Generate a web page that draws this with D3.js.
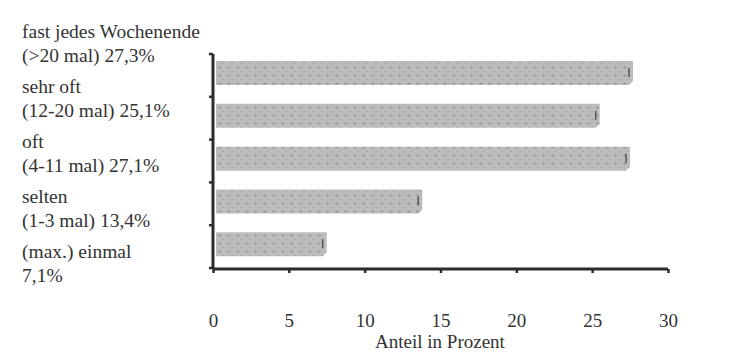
<!DOCTYPE html>
<html>
<head>
<meta charset="utf-8">
<script src="https://cdn.jsdelivr.net/npm/d3@7"></script>
<style>
  body { margin: 0; background: white; }
</style>
</head>
<body>
<div id="chart"></div>
<script>
// chart values
let categories = ['fast jedes Wochenende', 'sehr oft', 'oft', 'selten', '(max.) einmal'];
let subLabels = ['(>20 mal) 27,3%', '(12-20 mal) 25,1%', '(4-11 mal) 27,1%', '(1-3 mal) 13,4%', '7,1%'];
let values = [27.3, 25.1, 27.1, 13.4, 7.1];
let xTicks = [0, 5, 10, 15, 20, 25, 30];

let width = 750,
  height = 355;
let serif = '"Liberation Serif", "Times New Roman", Times, serif';

let svg = d3.select('#chart')
  .append('svg')
  .attr('width', width)
  .attr('height', height)
  .style('background-color', 'white');

// speckled fill like the printed bars
let pattern = svg.append('defs')
  .append('pattern')
    .attr('id', 'speckle')
    .attr('patternUnits', 'userSpaceOnUse')
    .attr('width', 9)
    .attr('height', 8);
pattern.append('rect')
  .attr('width', 9).attr('height', 8)
  .attr('fill', '#bcbcbc');
pattern.append('rect')
  .attr('x', 2).attr('y', 3).attr('width', 4).attr('height', 1)
  .attr('fill', '#9e9e9e');
pattern.append('rect')
  .attr('x', 3).attr('y', 2).attr('width', 1).attr('height', 3)
  .attr('fill', '#9e9e9e');
pattern.append('rect')
  .attr('x', 6).attr('y', 7).attr('width', 2).attr('height', 1)
  .attr('fill', '#a6a6a6');

// scales
let xScale = d3.scaleLinear()
  .domain([0, 30])
  .range([213, 668]);

let yScale = d3.scaleBand()
  .domain(categories)
  .range([54, 268]);

// left hand labels sit on their own grid
let labelScale = d3.scalePoint()
  .domain(categories)
  .range([38, 258]);

let data = categories.map((c, i) => ({ cat: c, sub: subLabels[i], value: values[i] }));

// bars with a small bevelled end
let bw = yScale.bandwidth();
let barTop = d => yScale(d.cat) + bw * 0.165;
let barH = bw * 0.56;
let x0 = xScale(0) + 3;

svg.append('g')
  .selectAll('path')
  .data(data)
  .enter()
  .append('path')
    .attr('d', d => {
      let t = barTop(d), b = t + barH, xv = xScale(d.value);
      return `M${x0},${t} L${xv + 6},${t} L${xv + 6},${b - 4} L${xv + 2},${b} L${x0},${b} Z`;
    })
    .attr('fill', 'url(#speckle)');

// tiny dark edge mark near each bar end
svg.append('g')
  .selectAll('line')
  .data(data)
  .enter()
  .append('line')
    .attr('x1', d => xScale(d.value) + 2)
    .attr('x2', d => xScale(d.value) + 2)
    .attr('y1', d => barTop(d) + 7)
    .attr('y2', d => barTop(d) + 16)
    .style('stroke', '#555')
    .style('stroke-width', 1.5);

// y axis with ticks at band edges
let yEdges = categories.map(c => yScale(c)).concat([yScale.range()[1]]);
let yAxisG = svg.append('g').attr('class', 'y axis');
yAxisG.append('line')
  .attr('x1', xScale(0)).attr('x2', xScale(0))
  .attr('y1', yEdges[0]).attr('y2', yEdges[yEdges.length - 1] + 1)
  .style('stroke', '#2b2b2b')
  .style('stroke-width', 3);
yAxisG.selectAll('.tick')
  .data(yEdges)
  .enter()
  .append('line')
    .attr('x1', xScale(0) - 4).attr('x2', xScale(0))
    .attr('y1', d => d).attr('y2', d => d)
    .style('stroke', '#2b2b2b')
    .style('stroke-width', 2.5);

// x axis
let xAxis = d3.axisBottom(xScale)
  .tickValues(xTicks)
  .tickSize(4)
  .tickFormat(d3.format('d'));
let xAxisG = svg.append('g')
  .attr('class', 'x axis')
  .attr('transform', `translate(0, ${yScale.range()[1] + 1})`)
  .call(xAxis);
xAxisG.select('.domain')
  .attr('d', `M${xScale(0)},0H${xScale(30)}`)
  .style('stroke', '#2b2b2b')
  .style('stroke-width', 3);
xAxisG.selectAll('.tick line')
  .style('stroke', '#2b2b2b')
  .style('stroke-width', 2.5);
xAxisG.selectAll('.tick text')
  .attr('dy', '0')
  .attr('y', 58)
  .style('font-family', serif)
  .style('font-size', '19px')
  .style('fill', '#333');

// x axis label
svg.append('text')
  .attr('x', 440)
  .attr('y', 348)
  .style('text-anchor', 'middle')
  .style('font-family', serif)
  .style('font-size', '19px')
  .style('fill', '#333')
  .text('Anteil in Prozent');

// category labels, two lines each
let labels = svg.append('g')
  .selectAll('g')
  .data(data)
  .enter()
  .append('g')
    .style('font-family', serif)
    .style('font-size', '19.5px')
    .style('fill', '#333');
labels.append('text')
  .attr('x', 22)
  .attr('y', d => labelScale(d.cat))
  .text(d => d.cat);
labels.append('text')
  .attr('x', 22)
  .attr('y', d => labelScale(d.cat) + 24)
  .text(d => d.sub);
</script>
</body>
</html>
